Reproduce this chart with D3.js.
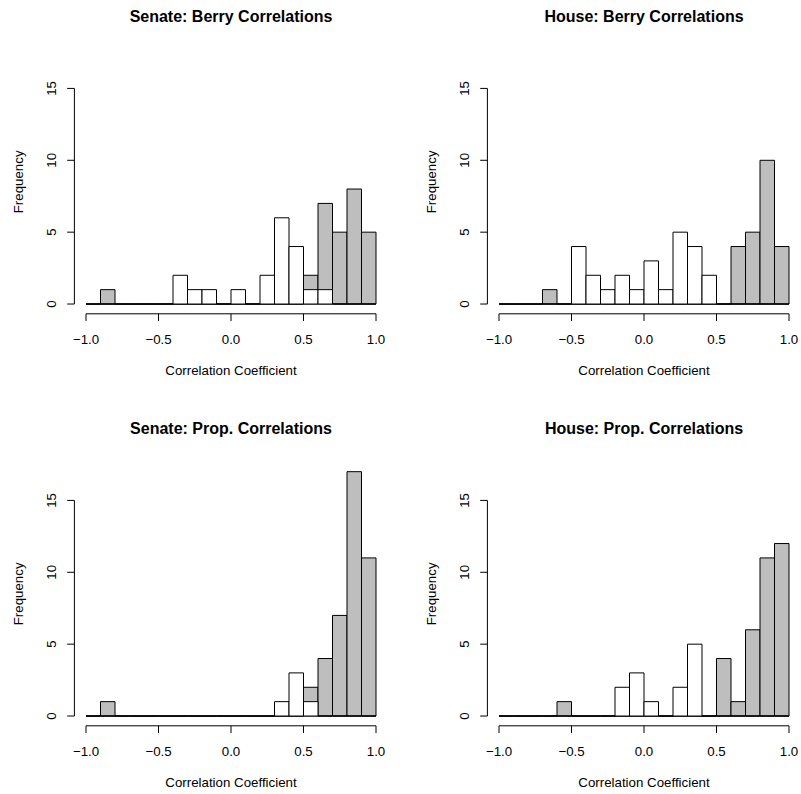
<!DOCTYPE html>
<html>
<head>
<meta charset="utf-8">
<script src="https://cdn.jsdelivr.net/npm/d3@7/dist/d3.min.js"></script>
<style>
  html, body { margin: 0; padding: 0; background: #fff; }
  svg { display: block; }
  text { font-family: "Liberation Sans", Arial, Helvetica, sans-serif; fill: #000; }
</style>
</head>
<body>
<svg id="chart" width="801" height="794"></svg>
<script>
// ---- Data ----
const binEdges = [-1.0, -0.9, -0.8, -0.7, -0.6, -0.5, -0.4, -0.3, -0.2, -0.1, 0.0,
                  0.1, 0.2, 0.3, 0.4, 0.5, 0.6, 0.7, 0.8, 0.9, 1.0];
const titles = ["Senate: Berry Correlations", "House: Berry Correlations",
                "Senate: Prop. Correlations", "House: Prop. Correlations"];
const xTicks = [-1.0, -0.5, 0.0, 0.5, 1.0];
const yTicks = [0, 5, 10, 15];
const xLabel = "Correlation Coefficient";
const yLabel = "Frequency";

// gray = drawn first, white = drawn on top
const senateBerryGray  = [0,1,0,0,0,0,0,0,0,0,0,0,0,0,0,2,7,5,8,5];
const senateBerryWhite = [0,0,0,0,0,0,2,1,1,0,1,0,2,6,4,1,1,0,0,0];
const houseBerryGray   = [0,0,0,1,0,0,0,0,0,0,0,0,0,0,0,0,4,5,10,4];
const houseBerryWhite  = [0,0,0,0,0,4,2,1,2,1,3,1,5,4,2,0,0,0,0,0];
const senatePropGray   = [0,1,0,0,0,0,0,0,0,0,0,0,0,0,0,2,4,7,17,11];
const senatePropWhite  = [0,0,0,0,0,0,0,0,0,0,0,0,0,1,3,1,0,0,0,0];
const housePropGray    = [0,0,0,0,1,0,0,0,0,0,0,0,0,0,0,4,1,6,11,12];
const housePropWhite   = [0,0,0,0,0,0,0,0,2,3,1,0,2,5,0,0,0,0,0,0];

const panels = [
  { title: titles[0], gray: senateBerryGray, white: senateBerryWhite, ox: 0,   oy: 0 },
  { title: titles[1], gray: houseBerryGray,  white: houseBerryWhite,  ox: 413, oy: 0 },
  { title: titles[2], gray: senatePropGray,  white: senatePropWhite,  ox: 0,   oy: 412 },
  { title: titles[3], gray: housePropGray,   white: housePropWhite,   ox: 413, oy: 412 }
];

const svg = d3.select("#chart");
const fmt = d3.format(".1f");

panels.forEach(p => {
  const left = p.ox + 74.4, right = p.ox + 387.6;
  const top = p.oy + 49.9, bottom = p.oy + 313.8;
  const x = d3.scaleLinear().domain([-1.08, 1.08]).range([left, right]);
  const y = d3.scaleLinear().domain([-0.68, 17.68]).range([bottom, top]);
  const g = svg.append("g");

  // title
  g.append("text")
    .attr("x", (left + right) / 2).attr("y", p.oy + 21.5)
    .attr("text-anchor", "middle")
    .style("font-size", "16px").style("font-weight", "bold")
    .text(p.title);

  // bars
  const drawHist = (counts, fill) => {
    g.append("g").selectAll("path")
      .data(counts)
      .join("path")
      .attr("d", (c, i) => {
        const x0 = x(binEdges[i]), x1 = x(binEdges[i + 1]);
        const y0 = y(0), y1 = y(c);
        return `M${x0},${y0}V${y1}H${x1}V${y0}Z`;
      })
      .attr("fill", fill)
      .attr("stroke", "#000")
      .attr("stroke-width", 1);
  };
  drawHist(p.gray, "#BEBEBE");
  drawHist(p.white, "#FFFFFF");

  // x axis
  const xa = g.append("g").attr("stroke", "#000").attr("stroke-width", 1);
  xa.append("line")
    .attr("x1", x(xTicks[0])).attr("x2", x(xTicks[xTicks.length - 1]))
    .attr("y1", bottom).attr("y2", bottom);
  xa.selectAll("line.t").data(xTicks).join("line").attr("class", "t")
    .attr("x1", d => x(d)).attr("x2", d => x(d))
    .attr("y1", bottom).attr("y2", bottom + 7.2);
  g.selectAll("text.xt").data(xTicks).join("text").attr("class", "xt")
    .attr("x", d => x(d)).attr("y", bottom + 30.3)
    .attr("text-anchor", "middle")
    .style("font-size", "13.3px")
    .text(d => fmt(d));
  g.append("text")
    .attr("x", (left + right) / 2).attr("y", bottom + 61.5)
    .attr("text-anchor", "middle")
    .style("font-size", "13.3px")
    .text(xLabel);

  // y axis
  const ya = g.append("g").attr("stroke", "#000").attr("stroke-width", 1);
  ya.append("line")
    .attr("x1", left).attr("x2", left)
    .attr("y1", y(yTicks[0])).attr("y2", y(yTicks[yTicks.length - 1]));
  ya.selectAll("line.t").data(yTicks).join("line").attr("class", "t")
    .attr("x1", left - 7.2).attr("x2", left)
    .attr("y1", d => y(d)).attr("y2", d => y(d));
  g.selectAll("text.yt").data(yTicks).join("text").attr("class", "yt")
    .attr("transform", d => `translate(${left - 18.4},${y(d)}) rotate(-90)`)
    .attr("text-anchor", "middle")
    .style("font-size", "13.3px")
    .text(d => d);
  g.append("text")
    .attr("transform", `translate(${p.ox + 23},${(top + bottom) / 2}) rotate(-90)`)
    .attr("text-anchor", "middle")
    .style("font-size", "13.3px")
    .text(yLabel);
});
</script>
</body>
</html>
